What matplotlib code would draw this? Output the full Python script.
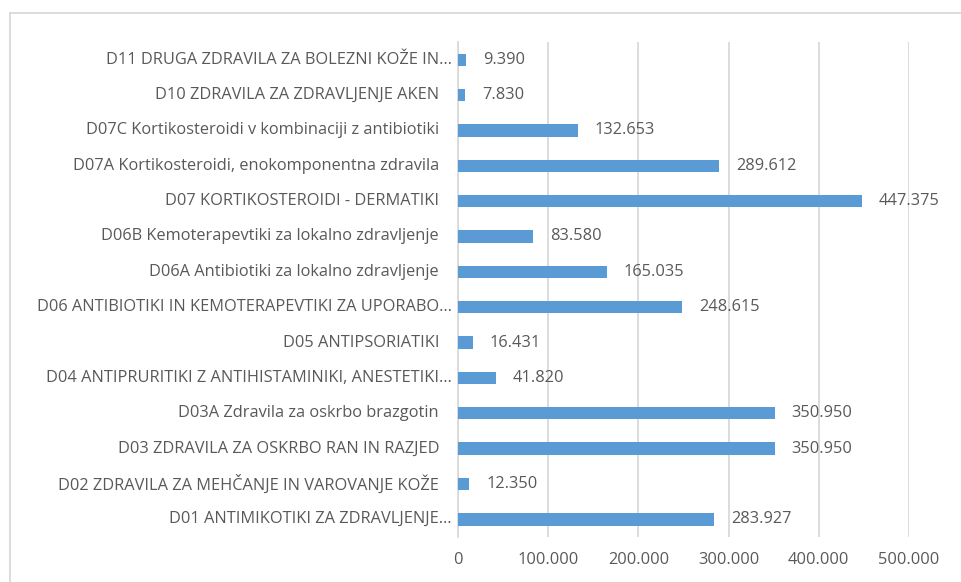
import matplotlib
matplotlib.use("Agg")
import matplotlib.pyplot as plt
from matplotlib.lines import Line2D
import matplotlib.transforms as mtransforms

categories = [
    "D01 ANTIMIKOTIKI ZA ZDRAVLJENJE…",
    "D02 ZDRAVILA ZA MEHČANJE IN VAROVANJE KOŽE",
    "D03 ZDRAVILA ZA OSKRBO RAN IN RAZJED",
    "D03A Zdravila za oskrbo brazgotin",
    "D04 ANTIPRURITIKI Z ANTIHISTAMINIKI, ANESTETIKI…",
    "D05 ANTIPSORIATIKI",
    "D06 ANTIBIOTIKI IN KEMOTERAPEVTIKI ZA UPORABO…",
    "D06A Antibiotiki za lokalno zdravljenje",
    "D06B Kemoterapevtiki za lokalno zdravljenje",
    "D07 KORTIKOSTEROIDI - DERMATIKI",
    "D07A Kortikosteroidi, enokomponentna zdravila",
    "D07C Kortikosteroidi v kombinaciji z antibiotiki",
    "D10 ZDRAVILA ZA ZDRAVLJENJE AKEN",
    "D11 DRUGA ZDRAVILA ZA BOLEZNI KOŽE IN…",
]
values = [283927, 12350, 350950, 350950, 41820, 16431, 248615,
          165035, 83580, 447375, 289612, 132653, 7830, 9390]
xticks = [0, 100000, 200000, 300000, 400000, 500000]


def fmt(v):
    return f"{v:,.0f}".replace(",", ".")


plt.rcParams['font.family'] = ['Open Sans', 'DejaVu Sans']
text_color = "#595959"
bar_color = "#5B9BD5"
grid_color = "#D9D9D9"
fs = 11.8

fig = plt.figure(figsize=(9.61, 5.82), dpi=100)
ax = fig.add_axes([0.4766, 0.0773, 0.4693, 0.8505])

y = list(range(len(categories)))
ax.barh(y, values, height=0.35, color=bar_color, zorder=3)
ax.set_xlim(0, 500000)
ax.set_ylim(-0.5, len(categories) - 0.5)
ax.set_xticks(xticks)
ax.set_xticklabels([fmt(t) for t in xticks])
ax.tick_params(axis='x', length=0, pad=11, labelsize=fs, labelcolor=text_color)
ax.set_yticks([])
ax.grid(axis='x', color=grid_color, linewidth=1.3, zorder=0)
for s in ['top', 'right', 'bottom']:
    ax.spines[s].set_visible(False)
ax.spines['left'].set_color(grid_color)
ax.spines['left'].set_linewidth(1.3)

# category labels
trans = mtransforms.blended_transform_factory(ax.transAxes, ax.transData)
for yi, c in zip(y, categories):
    xpos = -0.0133 if c.endswith("…") else -0.042
    ax.text(xpos, yi, c, transform=trans, ha='right', va='center',
            fontsize=fs, color=text_color)

# value labels
offset = mtransforms.offset_copy(ax.transData, fig=fig, x=17, y=0, units='dots')
for yi, v in zip(y, values):
    ax.text(v, yi, fmt(v), transform=offset, ha='left', va='center',
            fontsize=fs, color=text_color)

# chart frame (left and top edges visible)
fig.add_artist(Line2D([9.5 / 961, 9.5 / 961], [0, 1 - 13 / 582],
                      transform=fig.transFigure, color=grid_color, linewidth=1.3))
fig.add_artist(Line2D([9.5 / 961, 1], [1 - 13 / 582, 1 - 13 / 582],
                      transform=fig.transFigure, color=grid_color, linewidth=1.3))

fig.savefig("out.png", dpi=100)
